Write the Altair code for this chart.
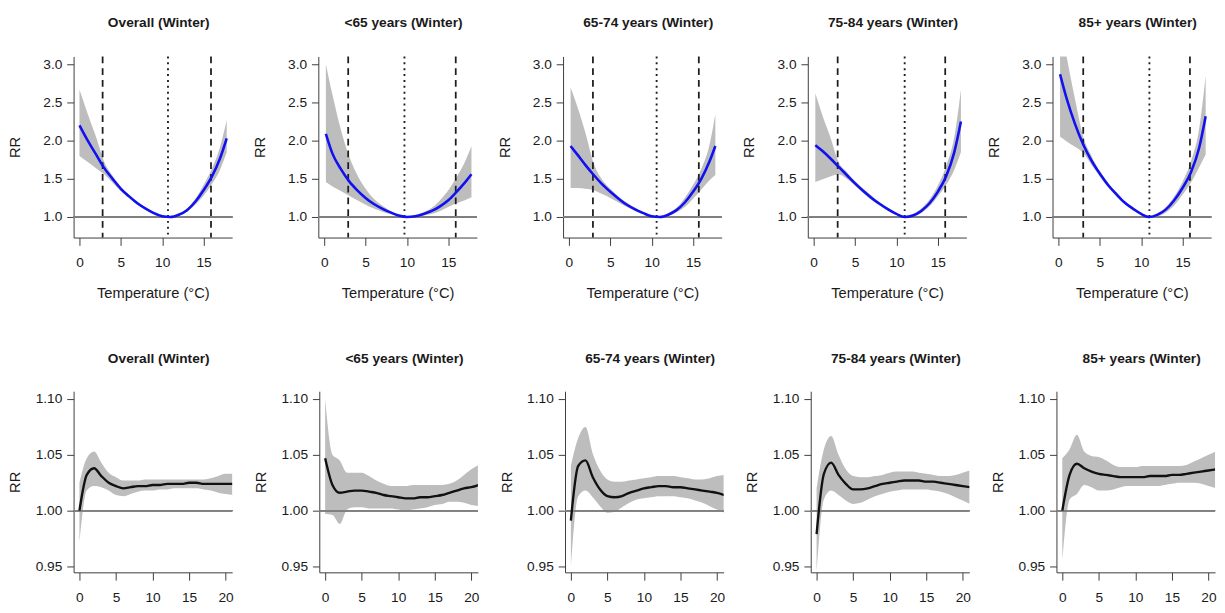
import altair as alt
import pandas as pd

FONT = "Liberation Sans"
BAND = "#BDBDBD"
AXC = "#3a3a3a"
TXT = "#1a1a1a"

panel_titles = ["Overall (Winter)", "<65 years (Winter)", "65-74 years (Winter)",
                "75-84 years (Winter)", "85+ years (Winter)"]

# ---------------- top row: temperature-response (RR vs temperature) ----------------
temp_overall = [0, 1, 2, 3, 4, 5, 6, 7, 8, 9, 10, 11, 12, 13, 14, 15, 16, 17, 17.8]
temp_age = [0.2, 1, 2, 3, 4, 5, 6, 7, 8, 9, 10, 11, 12, 13, 14, 15, 16, 17, 17.8]
temp_6574 = [0.2, 1, 2, 3, 4, 5, 6, 7, 8, 9, 10, 11, 12, 13, 14, 15, 16, 17, 17.7]

rr_overall = [2.20, 2.00, 1.82, 1.64, 1.50, 1.37, 1.27, 1.18, 1.11, 1.05, 1.01, 1.00, 1.03, 1.09, 1.20, 1.35, 1.53, 1.77, 2.03]
hi_overall = [2.67, 2.35, 2.05, 1.72, 1.54, 1.40, 1.29, 1.20, 1.12, 1.06, 1.01, 1.00, 1.04, 1.11, 1.24, 1.42, 1.63, 1.92, 2.27]
lo_overall = [1.80, 1.72, 1.64, 1.56, 1.45, 1.34, 1.25, 1.16, 1.10, 1.04, 1.00, 1.00, 1.02, 1.07, 1.16, 1.28, 1.43, 1.62, 1.85]

rr_u65 = [2.09, 1.83, 1.63, 1.47, 1.35, 1.25, 1.17, 1.11, 1.06, 1.02, 1.00, 1.01, 1.04, 1.08, 1.14, 1.22, 1.33, 1.45, 1.56]
hi_u65 = [3.00, 2.60, 2.15, 1.80, 1.55, 1.37, 1.24, 1.15, 1.08, 1.03, 1.00, 1.02, 1.06, 1.12, 1.22, 1.35, 1.52, 1.72, 1.93]
lo_u65 = [1.46, 1.40, 1.34, 1.28, 1.22, 1.16, 1.11, 1.07, 1.04, 1.01, 1.00, 1.00, 1.02, 1.04, 1.08, 1.13, 1.18, 1.22, 1.26]

rr_6574 = [1.93, 1.82, 1.68, 1.55, 1.43, 1.33, 1.24, 1.16, 1.10, 1.05, 1.01, 1.00, 1.03, 1.09, 1.19, 1.33, 1.50, 1.73, 1.93]
hi_6574 = [2.70, 2.45, 2.10, 1.70, 1.49, 1.37, 1.27, 1.19, 1.12, 1.06, 1.02, 1.00, 1.05, 1.12, 1.25, 1.42, 1.63, 1.95, 2.35]
lo_6574 = [1.38, 1.38, 1.37, 1.35, 1.30, 1.25, 1.19, 1.13, 1.08, 1.04, 1.01, 1.00, 1.02, 1.06, 1.13, 1.24, 1.36, 1.48, 1.55]

rr_7584 = [1.94, 1.87, 1.77, 1.66, 1.55, 1.44, 1.34, 1.25, 1.17, 1.10, 1.04, 1.00, 1.02, 1.08, 1.18, 1.33, 1.53, 1.85, 2.25]
hi_7584 = [2.62, 2.35, 2.05, 1.72, 1.59, 1.47, 1.37, 1.28, 1.19, 1.12, 1.05, 1.00, 1.04, 1.11, 1.23, 1.41, 1.66, 2.05, 2.67]
lo_7584 = [1.46, 1.49, 1.53, 1.56, 1.50, 1.41, 1.31, 1.22, 1.15, 1.08, 1.03, 1.00, 1.01, 1.05, 1.14, 1.27, 1.42, 1.62, 1.85]

rr_85 = [2.87, 2.55, 2.22, 1.95, 1.74, 1.57, 1.42, 1.30, 1.19, 1.11, 1.04, 1.00, 1.03, 1.10, 1.22, 1.38, 1.58, 1.90, 2.32]
hi_85 = [3.60, 3.10, 2.55, 2.05, 1.80, 1.60, 1.45, 1.32, 1.21, 1.12, 1.05, 1.00, 1.05, 1.13, 1.27, 1.46, 1.72, 2.15, 2.85]
lo_85 = [2.05, 1.99, 1.92, 1.84, 1.68, 1.53, 1.39, 1.27, 1.17, 1.09, 1.03, 1.00, 1.01, 1.06, 1.15, 1.29, 1.45, 1.65, 1.82]

# cold / heat percentiles (dashed) and minimum-risk temperature (dotted)
dashed_temps = [[2.8, 15.9], [2.9, 15.9], [2.9, 15.7], [2.9, 15.9], [3.0, 15.9]]
dotted_temps = [10.7, 9.7, 10.6, 11.0, 11.0]

# ---------------- bottom row: lag-response (RR vs lag days) ----------------
lags = list(range(0, 22))

lag_rr_overall = [1.000, 1.032, 1.038, 1.031, 1.025, 1.022, 1.020, 1.021, 1.022, 1.022, 1.023,
                  1.023, 1.024, 1.024, 1.024, 1.025, 1.025, 1.024, 1.024, 1.024, 1.024, 1.024]
lag_hi_overall = [1.025, 1.047, 1.053, 1.043, 1.034, 1.030, 1.027, 1.027, 1.027, 1.028, 1.028,
                  1.028, 1.028, 1.028, 1.028, 1.028, 1.028, 1.028, 1.029, 1.031, 1.033, 1.033]
lag_lo_overall = [0.972, 1.018, 1.022, 1.021, 1.018, 1.014, 1.013, 1.015, 1.017, 1.018, 1.018,
                  1.019, 1.019, 1.020, 1.020, 1.020, 1.020, 1.019, 1.018, 1.016, 1.015, 1.014]

lag_rr_u65 = [1.047, 1.023, 1.016, 1.017, 1.018, 1.018, 1.017, 1.016, 1.014, 1.013, 1.012,
              1.011, 1.011, 1.012, 1.012, 1.013, 1.014, 1.016, 1.018, 1.020, 1.021, 1.023]
lag_hi_u65 = [1.100, 1.050, 1.045, 1.034, 1.034, 1.034, 1.031, 1.027, 1.024, 1.022, 1.022,
              1.022, 1.023, 1.023, 1.023, 1.023, 1.023, 1.024, 1.027, 1.032, 1.037, 1.041]
lag_lo_u65 = [0.997, 0.996, 0.988, 1.001, 1.003, 1.003, 1.002, 1.002, 1.002, 1.002, 1.001,
              1.000, 1.001, 1.002, 1.003, 1.005, 1.006, 1.008, 1.008, 1.007, 1.005, 1.004]

lag_rr_6574 = [0.991, 1.040, 1.045, 1.030, 1.019, 1.013, 1.012, 1.013, 1.016, 1.018, 1.020,
               1.021, 1.022, 1.022, 1.021, 1.021, 1.020, 1.019, 1.018, 1.017, 1.016, 1.014]
lag_hi_6574 = [1.040, 1.065, 1.075, 1.051, 1.036, 1.028, 1.026, 1.026, 1.027, 1.028, 1.029,
               1.030, 1.031, 1.031, 1.031, 1.030, 1.029, 1.028, 1.028, 1.029, 1.031, 1.032]
lag_lo_6574 = [0.950, 1.013, 1.018, 1.012, 1.004, 0.998, 0.999, 1.003, 1.007, 1.010, 1.011,
               1.012, 1.013, 1.013, 1.013, 1.012, 1.011, 1.009, 1.007, 1.004, 1.001, 0.998]

lag_rr_7584 = [0.979, 1.033, 1.043, 1.032, 1.024, 1.019, 1.019, 1.020, 1.022, 1.024, 1.025,
               1.026, 1.027, 1.027, 1.027, 1.026, 1.026, 1.025, 1.024, 1.023, 1.022, 1.021]
lag_hi_7584 = [1.020, 1.055, 1.067, 1.050, 1.037, 1.031, 1.030, 1.030, 1.031, 1.032, 1.034,
               1.035, 1.035, 1.035, 1.034, 1.033, 1.032, 1.031, 1.031, 1.032, 1.034, 1.036]
lag_lo_7584 = [0.945, 1.010, 1.018, 1.014, 1.009, 1.006, 1.007, 1.010, 1.013, 1.015, 1.017,
               1.018, 1.019, 1.019, 1.019, 1.019, 1.018, 1.017, 1.015, 1.012, 1.009, 1.006]

lag_rr_85 = [1.000, 1.032, 1.042, 1.038, 1.035, 1.033, 1.032, 1.031, 1.030, 1.030, 1.030,
             1.030, 1.031, 1.031, 1.031, 1.032, 1.032, 1.033, 1.034, 1.035, 1.036, 1.037]
lag_hi_85 = [1.047, 1.055, 1.068, 1.053, 1.049, 1.048, 1.045, 1.041, 1.039, 1.039, 1.039,
             1.040, 1.040, 1.040, 1.040, 1.040, 1.040, 1.041, 1.044, 1.047, 1.050, 1.053]
lag_lo_85 = [0.956, 1.010, 1.015, 1.023, 1.021, 1.018, 1.018, 1.019, 1.021, 1.022, 1.022,
             1.022, 1.022, 1.022, 1.023, 1.024, 1.025, 1.025, 1.025, 1.024, 1.022, 1.020]

top_series = [
    (temp_overall, rr_overall, lo_overall, hi_overall),
    (temp_age, rr_u65, lo_u65, hi_u65),
    (temp_6574, rr_6574, lo_6574, hi_6574),
    (temp_age, rr_7584, lo_7584, hi_7584),
    (temp_age, rr_85, lo_85, hi_85),
]
bottom_series = [
    (lag_rr_overall, lag_lo_overall, lag_hi_overall),
    (lag_rr_u65, lag_lo_u65, lag_hi_u65),
    (lag_rr_6574, lag_lo_6574, lag_hi_6574),
    (lag_rr_7584, lag_lo_7584, lag_hi_7584),
    (lag_rr_85, lag_lo_85, lag_hi_85),
]

W, H = 162, 185


def title_for(text):
    return alt.TitleParams(text=text, font=FONT, fontSize=14, fontWeight="bold",
                           anchor="middle", frame="group", offset=26, dx=6, color=TXT)


def top_panel(i):
    xs, rr, lo, hi = top_series[i]
    df = pd.DataFrame({"t": xs, "rr": rr, "lo": lo, "hi": hi})
    xsc = alt.Scale(domain=[-0.71, 18.46], nice=False, zero=False)
    ysc = alt.Scale(domain=[0.731, 3.103], nice=False, zero=False)
    xax = alt.Axis(values=[0, 5, 10, 15], title="Temperature (°C)", format="d")
    yax = alt.Axis(values=[1.0, 1.5, 2.0, 2.5, 3.0], title="RR", format=".1f")
    band = alt.Chart(df).mark_area(color=BAND, clip=True, interpolate="monotone").encode(
        x=alt.X("t:Q", scale=xsc, axis=xax), y=alt.Y("lo:Q", scale=ysc, axis=yax), y2="hi:Q")
    ref = alt.Chart(df).mark_rule(color="#808080", strokeWidth=1).encode(y=alt.datum(1.0))
    dashed = alt.Chart(pd.DataFrame({"v": dashed_temps[i]})).mark_rule(
        color="#1e1e1e", strokeWidth=1.8, strokeDash=[7, 5]).encode(x="v:Q")
    dotted = alt.Chart(pd.DataFrame({"v": [dotted_temps[i]]})).mark_rule(
        color="#1e1e1e", strokeWidth=1.9, strokeDash=[2, 4]).encode(x="v:Q")
    line = alt.Chart(df).mark_line(color="#1010F0", strokeWidth=2.6, clip=True,
                                   interpolate="monotone").encode(x="t:Q", y="rr:Q")
    return alt.layer(band, ref, dashed, dotted, line).properties(
        width=W, height=H, title=title_for(panel_titles[i]))


def bottom_panel(i):
    rr, lo, hi = bottom_series[i]
    df = pd.DataFrame({"lag": lags, "rr": rr, "lo": lo, "hi": hi})
    xsc = alt.Scale(domain=[-0.8, 20.9], nice=False, zero=False)
    ysc = alt.Scale(domain=[0.9447, 1.107], nice=False, zero=False)
    xax = alt.Axis(values=[0, 5, 10, 15, 20], title="", format="d")
    yax = alt.Axis(values=[0.95, 1.00, 1.05, 1.10], title="RR", format=".2f")
    band = alt.Chart(df).mark_area(color=BAND, clip=True, interpolate="monotone").encode(
        x=alt.X("lag:Q", scale=xsc, axis=xax), y=alt.Y("lo:Q", scale=ysc, axis=yax), y2="hi:Q")
    ref = alt.Chart(df).mark_rule(color="#808080", strokeWidth=1).encode(y=alt.datum(1.0))
    line = alt.Chart(df).mark_line(color="#111111", strokeWidth=2.4, clip=True,
                                   interpolate="monotone").encode(x="lag:Q", y="rr:Q")
    return alt.layer(band, ref, line).properties(
        width=W, height=H, title=title_for(panel_titles[i]))


top_row = alt.hconcat(*[top_panel(i) for i in range(5)], spacing=20)
bottom_row = alt.hconcat(*[bottom_panel(i) for i in range(5)], spacing=20)

chart = alt.vconcat(top_row, bottom_row, spacing=53).properties(
    padding={"left": 0, "top": 2, "right": 0, "bottom": 0}
).configure_view(strokeWidth=0).configure_axis(
    labelFont=FONT, labelFontSize=14, labelColor=TXT,
    titleFont=FONT, titleFontSize=15, titleFontWeight="normal", titleColor=TXT,
    domainColor=AXC, domainWidth=1, tickColor=AXC, tickWidth=1, grid=False
).configure_axisX(
    tickSize=8, labelPadding=11, titlePadding=16
).configure_axisY(
    tickSize=7, labelPadding=5, minExtent=40, maxExtent=40, titlePadding=12
)

chart.save("out.html", embed_options={"renderer": "svg", "actions": False})
